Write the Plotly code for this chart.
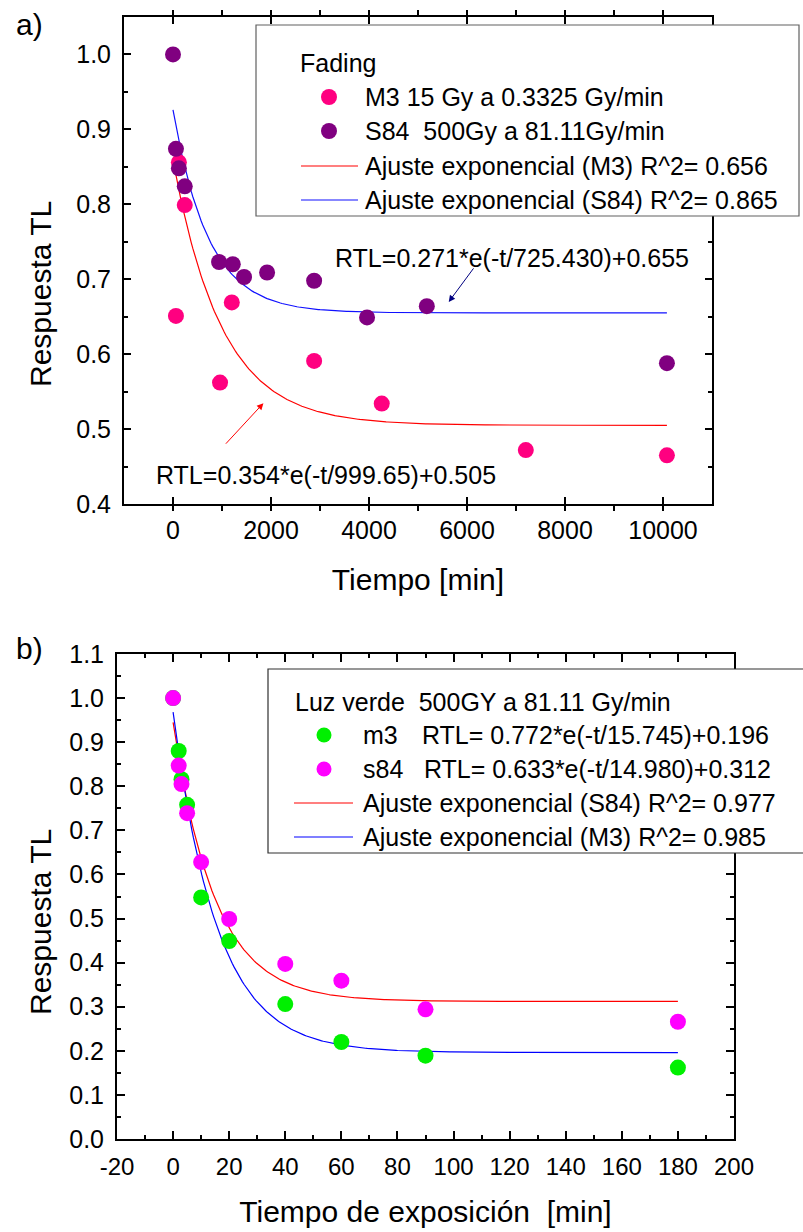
import numpy as np
import plotly.graph_objects as go

W, H = 803, 1232

# ---------------- Panel a) Fading ----------------
a_m3_t = [60, 120, 240, 960, 1200, 2880, 4260, 7200, 10080]
a_m3_y = [0.651, 0.856, 0.799, 0.562, 0.669, 0.591, 0.534, 0.472, 0.465]
a_s84_t = [0, 60, 120, 240, 940, 1220, 1450, 1920, 2880, 3960, 5180, 10080]
a_s84_y = [1.000, 0.874, 0.848, 0.824, 0.723, 0.720, 0.703, 0.709, 0.698, 0.649, 0.664, 0.588]
# exponential fit parameters (as printed on the chart): A, tau, y0
a_fit_m3 = [0.354, 999.65, 0.505]
a_fit_s84 = [0.271, 725.430, 0.655]
a_fit_tmax = 10080

# ---------------- Panel b) Luz verde ----------------
b_t = [0, 2, 3, 5, 10, 20, 40, 60, 90, 180]
b_m3_y = [1.000, 0.880, 0.816, 0.758, 0.548, 0.449, 0.306, 0.220, 0.189, 0.162]
b_s84_y = [1.000, 0.847, 0.805, 0.739, 0.628, 0.499, 0.397, 0.359, 0.294, 0.266]
b_fit_m3 = [0.772, 15.745, 0.196]
b_fit_s84 = [0.633, 14.980, 0.312]
b_fit_tmax = 180

# tick labels
a_xticks = [0, 2000, 4000, 6000, 8000, 10000]
a_yticks = [0.4, 0.5, 0.6, 0.7, 0.8, 0.9, 1.0]
b_xticks = [-20, 0, 20, 40, 60, 80, 100, 120, 140, 160, 180, 200]
b_yticks = [0.0, 0.1, 0.2, 0.3, 0.4, 0.5, 0.6, 0.7, 0.8, 0.9, 1.0, 1.1]

C_M3 = "#FF0080"
C_S84 = "#800080"
C_GREEN = "#00F000"
C_MAG = "#FF00FF"
C_RED = "#FF0000"
C_BLUE = "#1010FF"

FONT = "Liberation Sans, Arial, sans-serif"


def fit_curve(p, tmax, n=300):
    t = np.linspace(0, tmax, n)
    return t, p[0] * np.exp(-t / p[1]) + p[2]


fig = go.Figure()

ta, ya = fit_curve(a_fit_m3, a_fit_tmax)
fig.add_trace(go.Scatter(x=ta, y=ya, mode="lines", line=dict(color=C_RED, width=1.2),
                         name="Ajuste exponencial (M3) R^2= 0.656", xaxis="x", yaxis="y"))
ta, ya = fit_curve(a_fit_s84, a_fit_tmax)
fig.add_trace(go.Scatter(x=ta, y=ya, mode="lines", line=dict(color=C_BLUE, width=1.2),
                         name="Ajuste exponencial (S84) R^2= 0.865", xaxis="x", yaxis="y"))
fig.add_trace(go.Scatter(x=a_m3_t, y=a_m3_y, mode="markers",
                         marker=dict(color=C_M3, size=16, line=dict(width=0)),
                         name="M3 15 Gy a 0.3325 Gy/min", xaxis="x", yaxis="y"))
fig.add_trace(go.Scatter(x=a_s84_t, y=a_s84_y, mode="markers",
                         marker=dict(color=C_S84, size=16, line=dict(width=0)),
                         name="S84  500Gy a 81.11Gy/min", xaxis="x", yaxis="y"))

tb, yb = fit_curve(b_fit_s84, b_fit_tmax)
fig.add_trace(go.Scatter(x=tb, y=yb, mode="lines", line=dict(color=C_RED, width=1.2),
                         name="Ajuste exponencial (S84) R^2= 0.977", xaxis="x2", yaxis="y2"))
tb, yb = fit_curve(b_fit_m3, b_fit_tmax)
fig.add_trace(go.Scatter(x=tb, y=yb, mode="lines", line=dict(color="#0000FF", width=1.2),
                         name="Ajuste exponencial (M3) R^2= 0.985", xaxis="x2", yaxis="y2"))
fig.add_trace(go.Scatter(x=b_t, y=b_m3_y, mode="markers",
                         marker=dict(color=C_GREEN, size=16, line=dict(width=0)),
                         name="m3", xaxis="x2", yaxis="y2"))
fig.add_trace(go.Scatter(x=b_t, y=b_s84_y, mode="markers",
                         marker=dict(color=C_MAG, size=16, line=dict(width=0)),
                         name="s84", xaxis="x2", yaxis="y2"))


def px(x):
    return x / W


def py(y):
    return 1 - y / H


axis_common = dict(showgrid=False, zeroline=False, showline=True, linewidth=2, linecolor="black",
                   mirror="ticks", ticks="inside", ticklen=7, tickwidth=1.5, tickcolor="black",
                   automargin=False)

fig.update_layout(
    width=W, height=H, margin=dict(l=0, r=0, t=0, b=0, pad=0, autoexpand=False),
    paper_bgcolor="white", plot_bgcolor="white", showlegend=False,
    font=dict(family=FONT, color="black"),
    xaxis=dict(axis_common, domain=[px(124), px(712)], range=[-1000, 11000], anchor="y",
               tickvals=a_xticks, ticktext=[str(v) for v in a_xticks],
               tickfont=dict(size=25), ticklabelstandoff=3,
               minor=dict(dtick=1000, tick0=0, ticks="outside", ticklen=5, tickwidth=1.5, tickcolor="black"),
               title=dict(text="Tiempo [min]", font=dict(size=30), standoff=26)),
    yaxis=dict(axis_common, domain=[py(504), py(17)], range=[0.4, 1.05], anchor="x",
               tickvals=a_yticks, ticktext=[f"{v:.1f}" for v in a_yticks],
               tickfont=dict(size=25), ticklabelstandoff=6,
               minor=dict(dtick=0.05, tick0=0.4, ticks="inside", ticklen=4, tickwidth=1.5, tickcolor="black")),
    xaxis2=dict(axis_common, domain=[px(117), px(734)], range=[-20, 200], anchor="y2",
                tickvals=b_xticks, ticktext=[str(v) for v in b_xticks],
                tickfont=dict(size=24), ticklabelstandoff=5, ticklen=8,
                minor=dict(dtick=10, tick0=0, ticks="inside", ticklen=4, tickwidth=1.5, tickcolor="black"),
                title=dict(text="Tiempo de exposición  [min]", font=dict(size=30), standoff=22)),
    yaxis2=dict(axis_common, domain=[py(1139), py(654)], range=[0, 1.1], anchor="x2",
                tickvals=b_yticks, ticktext=[f"{v:.1f}" for v in b_yticks],
                tickfont=dict(size=25), ticklabelstandoff=6, ticklen=8,
                minor=dict(dtick=0.05, tick0=0, ticks="inside", ticklen=4, tickwidth=1.5, tickcolor="black")),
)

shapes = []
ann = []


def txt(x, y, s, size=25, anchor="left", **kw):
    ann.append(dict(xref="paper", yref="paper", x=px(x), y=py(y), text=s, showarrow=False,
                    xanchor=anchor, yanchor="middle", font=dict(size=size, family=FONT, color="black"), **kw))


def dot(x, y, color, r=8):
    shapes.append(dict(type="circle", xref="paper", yref="paper", xsizemode="pixel", ysizemode="pixel",
                       xanchor=px(x), yanchor=py(y), x0=-r, x1=r, y0=-r, y1=r,
                       fillcolor=color, line=dict(width=0), layer="above"))


def seg(x0, x1, y, color):
    shapes.append(dict(type="line", xref="paper", yref="paper", x0=px(x0), x1=px(x1), y0=py(y), y1=py(y),
                       line=dict(color=color, width=1.2), layer="above"))


# legend a
shapes.append(dict(type="rect", xref="paper", yref="paper", x0=px(256), x1=px(799), y0=py(216), y1=py(25),
                   fillcolor="white", line=dict(color="#606060", width=1.2), layer="above"))
txt(298, 63, "Fading")
dot(329, 97, C_M3)
txt(363, 97, "M3 15 Gy a 0.3325 Gy/min")
dot(329, 131, C_S84)
txt(363, 131, "S84\u00a0\u00a0500Gy a 81.11Gy/min")
seg(301, 358, 166, C_RED)
txt(363, 166, "Ajuste exponencial (M3) R^2= 0.656")
seg(301, 358, 200, C_BLUE)
txt(363, 200, "Ajuste exponencial (S84) R^2= 0.865")

# legend b
shapes.append(dict(type="rect", xref="paper", yref="paper", x0=px(268), x1=px(815), y0=py(853), y1=py(669),
                   fillcolor="white", line=dict(color="#303030", width=1.2), layer="above"))
txt(293, 702, "Luz verde\u00a0\u00a0500GY a 81.11 Gy/min")
dot(324, 735, C_GREEN, 7.5)
txt(361, 735, "m3")
txt(420, 735, "RTL= 0.772*e(-t/15.745)+0.196")
dot(324, 769, C_MAG, 7.5)
txt(361, 769, "s84")
txt(422, 769, "RTL= 0.633*e(-t/14.980)+0.312")
seg(294, 353, 803, C_RED)
txt(361, 803, "Ajuste exponencial (S84) R^2= 0.977")
seg(294, 353, 837, "#0000FF")
txt(361, 837, "Ajuste exponencial (M3) R^2= 0.985")

# panel labels and y titles
txt(29, 25, "a)", size=30, anchor="center")
txt(30, 648, "b)", size=30, anchor="center")
txt(40, 294, "Respuesta TL", size=30, anchor="center", textangle=-90)
txt(40, 922, "Respuesta TL", size=30, anchor="center", textangle=-90)

# fit equations with arrows (panel a)
ann.append(dict(xref="x", yref="y", x=-390, y=0.4385, text="RTL=0.354*e(-t/999.65)+0.505",
                showarrow=False, xanchor="left", yanchor="middle", font=dict(size=25, family=FONT)))
ann.append(dict(xref="x", yref="y", x=3270, y=0.7286, text="RTL=0.271*e(-t/725.430)+0.655",
                showarrow=False, xanchor="left", yanchor="middle", font=dict(size=25, family=FONT)))
ann.append(dict(xref="x", yref="y", axref="x", ayref="y", x=1845, y=0.5346, ax=1051, ay=0.4785,
                text="", showarrow=True, arrowhead=2, arrowsize=1.3, arrowwidth=1, arrowcolor=C_RED))
ann.append(dict(xref="x", yref="y", axref="x", ayref="y", x=5627, y=0.6697, ax=6156, ay=0.7165,
                text="", showarrow=True, arrowhead=2, arrowsize=1.3, arrowwidth=1, arrowcolor="#000080"))

fig.update_layout(shapes=shapes, annotations=ann)
fig.write_html("out.html")
